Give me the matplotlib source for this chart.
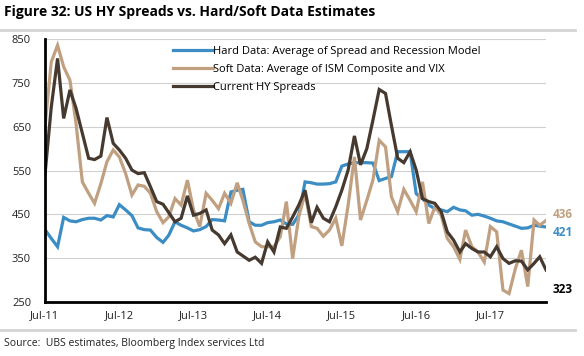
import matplotlib
matplotlib.use('Agg')
import matplotlib.pyplot as plt
import pandas as pd

plt.rcParams['font.family'] = ['Open Sans', 'DejaVu Sans']

# monthly, Jul-2011 .. Apr-2018
months = pd.date_range('2011-07-01', periods=82, freq='MS')

hard = [415, 395, 376, 443, 435, 433, 438, 441, 441, 437, 447, 444,
        472, 460, 447, 419, 415, 414, 397, 386, 402, 433, 425, 419,
        412, 415, 422, 438, 437, 435, 501, 505, 507, 433, 425, 425,
        431, 433, 437, 428, 427, 448, 524, 522, 519, 519, 520, 524,
        560, 565, 568, 568, 568, 567, 527, 532, 536, 593, 593, 593,
        497, 486, 471, 463, 460, 456, 466, 460, 458, 448, 450, 446,
        441, 435, 433, 428, 423, 418, 419, 425, 423, 421]

soft = [650, 798, 836, 787, 756, 657, 524, 498, 475, 520, 570, 597,
        581, 543, 494, 517, 514, 498, 456, 431, 444, 486, 471, 528,
        460, 422, 498, 482, 463, 498, 475, 522, 482, 429, 387, 376,
        376, 376, 399, 479, 349, 444, 498, 422, 418, 400, 414, 441,
        378, 471, 581, 437, 482, 528, 619, 604, 490, 456, 507, 482,
        456, 524, 429, 467, 448, 395, 376, 347, 414, 376, 364, 341,
        422, 410, 277, 269, 326, 368, 285, 437, 425, 436]

hy = [540, 695, 806, 669, 734, 692, 635, 578, 575, 583, 671, 612,
      597, 578, 551, 543, 545, 513, 479, 473, 454, 433, 441, 492,
      448, 452, 460, 414, 403, 383, 403, 364, 355, 345, 352, 338,
      387, 364, 421, 418, 444, 471, 505, 431, 466, 441, 433, 467,
      505, 551, 629, 563, 600, 665, 735, 726, 653, 578, 568, 593,
      551, 486, 479, 475, 456, 410, 391, 364, 383, 372, 364, 364,
      353, 376, 349, 338, 344, 343, 323, 338, 353, 323]

labels = ['Hard Data: Average of Spread and Recession Model',
          'Soft Data: Average of ISM Composite and VIX',
          'Current HY Spreads']
tick_dates = pd.to_datetime(['2011-07-01', '2012-07-01', '2013-07-01', '2014-07-01',
                             '2015-07-01', '2016-07-01', '2017-07-01'])
tick_labels = ['Jul-11', 'Jul-12', 'Jul-13', 'Jul-14', 'Jul-15', 'Jul-16', 'Jul-17']

c_hard = '#3b8dc4'
c_soft = '#c0a080'
c_hy = '#46392f'

fig = plt.figure(figsize=(5.84, 3.56), dpi=100, facecolor='w')
ax = fig.add_axes([0.077, 0.152, 0.858, 0.738])

ax.plot(months, hard, color=c_hard, lw=2.3, label=labels[0], solid_joinstyle='miter')
ax.plot(months, soft, color=c_soft, lw=2.3, label=labels[1], solid_joinstyle='miter')
ax.plot(months, hy, color=c_hy, lw=2.3, label=labels[2], solid_joinstyle='miter')

ax.set_ylim(250, 850)
ax.set_yticks(range(250, 851, 100))
ax.set_xlim(months[0], months[-1])
ax.set_xticks(tick_dates)
ax.set_xticklabels(tick_labels)
ax.tick_params(length=0, labelsize=8, colors='#222222', pad=6)
ax.tick_params(axis='y', pad=10)
ax.grid(axis='y', color='#d0d0d0', lw=0.8)
ax.set_axisbelow(True)
for s in ['top', 'right']:
    ax.spines[s].set_visible(False)
for s in ['left', 'bottom']:
    ax.spines[s].set_linewidth(2)
    ax.spines[s].set_color('black')

leg = ax.legend(loc='upper left', bbox_to_anchor=(0.235, 1.012), frameon=False,
                fontsize=8, handlelength=3.6, handletextpad=0.05,
                labelspacing=0.62)

# end-point labels
ax.annotate(f'{soft[-1]}', (months[-1], soft[-1]), xytext=(5, 4), textcoords='offset points',
            color=c_soft, fontsize=8.5, fontweight='bold', va='center')
ax.annotate(f'{hard[-1]}', (months[-1], hard[-1]), xytext=(5, -4), textcoords='offset points',
            color=c_hard, fontsize=8.5, fontweight='bold', va='center')
ax.annotate(f'{hy[-1]}', (months[-1], hy[-1]), xytext=(5, -14), textcoords='offset points',
            color='black', fontsize=8.5, fontweight='bold', va='center')

fig.text(0.006, 0.965, 'Figure 32: US HY Spreads vs. Hard/Soft Data Estimates',
         fontsize=10, fontweight='bold', va='center')
fig.add_artist(plt.Line2D([0.0, 0.985], [0.917, 0.917], color='#d4d4d4', lw=2))
fig.add_artist(plt.Line2D([0.0, 0.985], [0.072, 0.072], color='#d4d4d4', lw=2))
fig.text(0.006, 0.035, 'Source:  UBS estimates, Bloomberg Index services Ltd',
         fontsize=7.5, va='center', color='#222222')

fig.savefig('out.png', dpi=100)
